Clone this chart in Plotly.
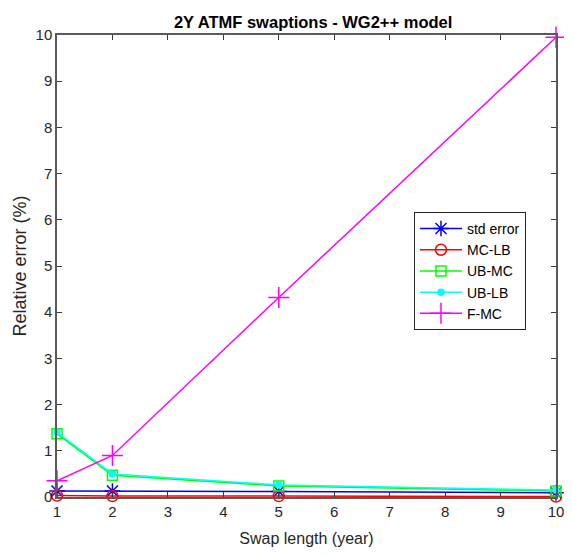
import plotly.graph_objects as go

swap_length = [1, 2, 5, 10]
std_error = [0.13, 0.13, 0.12, 0.09]
mc_lb = [0.03, 0.02, 0.02, 0.01]
ub_mc = [1.37, 0.47, 0.24, 0.13]
ub_lb = [1.40, 0.50, 0.26, 0.15]
f_mc = [0.35, 0.90, 4.32, 9.95]

series = [
    ("std error", std_error, "#0000ff", "asterisk-open", 13),
    ("MC-LB", mc_lb, "#ff0000", "circle-open", 11),
    ("UB-MC", ub_mc, "#00ff00", "square-open", 10),
    ("UB-LB", ub_lb, "#00ffff", "circle", 6),
    ("F-MC", f_mc, "#ff00ff", "cross-thin-open", 15),
]

fig = go.Figure()
for name, vals, color, sym, size in series:
    fig.add_trace(go.Scatter(
        x=swap_length, y=vals, name=name, mode="lines+markers",
        line=dict(color=color, width=1.5),
        marker=dict(symbol=sym, size=size, color=color, line=dict(color=color, width=1.5)),
        cliponaxis=False,
    ))

axis_common = dict(
    showgrid=False, zeroline=False, showline=True, mirror="ticks",
    linecolor="#5a5a5a", linewidth=1.5, ticks="inside", ticklen=5,
    tickcolor="#3a3a3a", tickfont=dict(size=15, color="#262626"),
    automargin=False,
)
fig.update_xaxes(range=[1, 10], tickvals=list(range(1, 11)),
                 title=dict(text="Swap length (year)", font=dict(size=16, color="#262626"), standoff=14),
                 **axis_common)
fig.update_yaxes(range=[0, 10], tickvals=list(range(0, 11)),
                 title=dict(text="Relative error (%)", font=dict(size=18, color="#262626"), standoff=4),
                 **axis_common)

fig.update_layout(
    width=564, height=549,
    margin=dict(l=49, r=16, t=27, b=60, autoexpand=False),
    paper_bgcolor="white", plot_bgcolor="white",
    font=dict(family="Liberation Sans, Arial, sans-serif", color="#262626"),
    title=dict(text="<b>2Y ATMF swaptions - WG2++ model</b>", x=0.541, xanchor="center",
               y=0.984, yanchor="top", font=dict(size=16.5, color="black")),
    showlegend=True,
    legend=dict(x=0.7154, y=0.617, xanchor="left", yanchor="top",
                bordercolor="#262626", borderwidth=1, bgcolor="white",
                font=dict(size=14, color="black"), tracegroupgap=0, itemwidth=42),
)

fig.write_html("out.html")
